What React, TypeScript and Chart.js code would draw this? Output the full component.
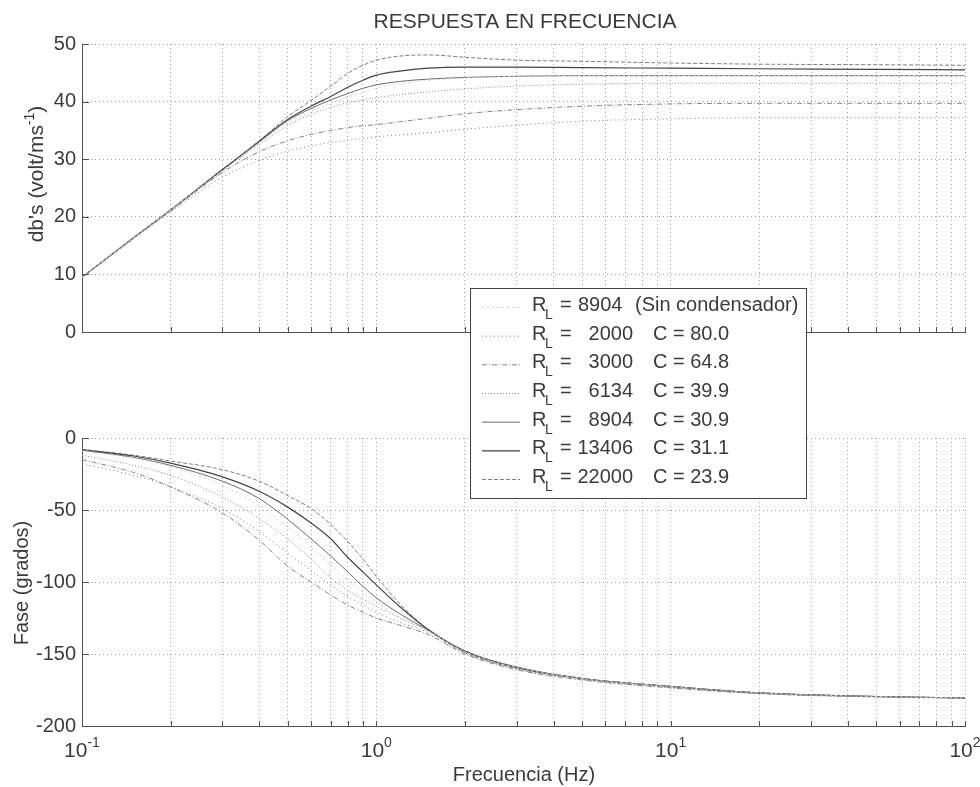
import React, { useEffect, useRef } from 'react';
import { Chart, registerables } from 'chart.js';

Chart.register(...registerables);

const W = 980;
const H = 787;
const FONT = '"Liberation Sans", Arial, Helvetica, sans-serif';
const TEXT_COLOR = '#3b3b3b';
const AXIS_COLOR = '#505050';
const GRID_COLOR = '#a0a0a0';

const PLOT_LEFT = 82;
const PLOT_RIGHT_PAD = 15;
const TOP_PLOT_TOP = 44;
const TOP_PLOT_BOTTOM = 332;
const BOT_PLOT_TOP = 438;
const BOT_PLOT_BOTTOM = 726;

// ---------- texts ----------
const chartTitle = 'RESPUESTA EN FRECUENCIA';
const magAxisTitle = "db's (volt/ms";
const magAxisTitleSup = '-1';
const magAxisTitleEnd = ')';
const phaseAxisTitle = 'Fase (grados)';
const freqAxisTitle = 'Frecuencia (Hz)';

// ---------- axes ----------
const xGridValues = [
  0.1, 0.2, 0.3, 0.4, 0.5, 0.6, 0.7, 0.8, 0.9,
  1, 2, 3, 4, 5, 6, 7, 8, 9,
  10, 20, 30, 40, 50, 60, 70, 80, 90, 100,
];
const xLabelValues = [0.1, 1, 10, 100];
const xLabelExponents = ['-1', '0', '1', '2'];
const magTicks = [0, 10, 20, 30, 40, 50];
const phaseTicks = [-200, -150, -100, -50, 0];

// ---------- legend ----------
const legendRL = ['8904', '2000', '3000', '6134', '8904', '13406', '22000'];
const legendC = ['', '80.0', '64.8', '39.9', '30.9', '31.1', '23.9'];
const sinCondensadorNote = '(Sin condensador)';

// ---------- data ----------
const freqHz = [0.1, 0.15, 0.2, 0.3, 0.4, 0.5, 0.6, 0.7, 0.8, 0.9, 1.0, 1.2, 1.5, 2, 3, 5, 10, 20, 50, 100];

// magnitude, dB
const magSinCond8904 = [9.5, 16.4, 21.2, 28.0, 32.8, 36.3, 38.3, 39.7, 40.8, 41.6, 42.3, 43.1, 43.7, 44.1, 44.4, 44.5, 44.5, 44.5, 44.5, 44.5];
const mag2000 = [9.4, 16.2, 20.8, 26.9, 29.8, 31.4, 32.3, 32.9, 33.3, 33.6, 33.9, 34.2, 34.6, 35.2, 35.9, 36.6, 37.0, 37.2, 37.2, 37.2];
const mag3000 = [9.5, 16.3, 21.0, 27.7, 31.3, 33.2, 34.3, 35.0, 35.5, 35.8, 36.0, 36.5, 37.1, 37.9, 38.6, 39.2, 39.6, 39.7, 39.7, 39.7];
const mag6134 = [9.5, 16.4, 21.1, 27.9, 32.6, 35.8, 37.8, 39.0, 39.8, 40.3, 40.7, 41.2, 41.7, 42.2, 42.7, 43.0, 43.2, 43.2, 43.2, 43.2];
const mag8904 = [9.5, 16.4, 21.2, 28.1, 33.0, 36.7, 38.8, 40.3, 41.4, 42.3, 42.9, 43.5, 43.9, 44.2, 44.4, 44.5, 44.5, 44.5, 44.5, 44.5];
const mag13406 = [9.5, 16.4, 21.2, 28.2, 33.1, 36.9, 39.2, 40.9, 42.5, 43.7, 44.6, 45.3, 45.8, 46.0, 46.0, 45.9, 45.8, 45.7, 45.6, 45.5];
const mag22000 = [9.5, 16.4, 21.2, 28.2, 33.2, 37.4, 40.2, 42.7, 44.9, 46.3, 47.2, 47.9, 48.1, 47.7, 47.2, 47.0, 46.7, 46.5, 46.4, 46.3];

// phase, degrees
const phaseSinCond8904 = [-9, -14, -20, -33, -47, -62, -76, -88, -99, -107, -114, -124, -134, -148.5, -159.5, -167, -172.5, -177, -179.5, -180.5];
const phase2000 = [-18, -26, -34, -49, -65, -80, -92, -102, -110, -116, -121, -128, -135, -149, -160.5, -168, -173.5, -177.5, -179.8, -180.6];
const phase3000 = [-15, -24, -34, -52, -71, -89, -100, -109, -116, -121, -125, -130, -136.5, -150, -161, -168, -173.5, -177.5, -179.8, -180.6];
const phase6134 = [-12, -19, -26, -41, -56, -70, -84, -97, -106, -112, -117, -125, -134, -149, -159.5, -167, -172.5, -177, -179.5, -180.5];
const phase8904 = [-8.5, -13.5, -19, -30, -42, -56.5, -70, -82, -93, -103, -111, -122, -133.5, -148, -159, -167, -172.5, -177, -179.5, -180.5];
const phase13406 = [-8, -12.5, -17.5, -27, -37, -48, -59, -70, -83, -93, -102, -117, -133, -148, -159.5, -167, -172.5, -177, -179.5, -180.5];
const phase22000 = [-8, -12, -16, -22, -30, -40, -49, -60, -72, -84, -96, -115, -133, -149, -160, -167, -172.5, -177, -179.5, -180.5];

const magSeries = [magSinCond8904, mag2000, mag3000, mag6134, mag8904, mag13406, mag22000];
const phaseSeries = [phaseSinCond8904, phase2000, phase3000, phase6134, phase8904, phase13406, phase22000];

const seriesStyles = [
  { color: '#cfcfcf', width: 1, dash: [2, 3] },
  { color: '#7c7c7c', width: 1, dash: [1, 3] },
  { color: '#858585', width: 1, dash: [5, 2, 1, 2] },
  { color: '#8a8a8a', width: 1, dash: [1, 2] },
  { color: '#6c6c6c', width: 1, dash: [] as number[] },
  { color: '#454545', width: 1.2, dash: [] as number[] },
  { color: '#7e7e7e', width: 1, dash: [4, 2] },
];

// ---------- helpers ----------
type Seg = { text: string; size: number; dy: number };

function drawSegs(ctx: CanvasRenderingContext2D, segs: Seg[], x: number, y: number, align: 'left' | 'center' | 'right') {
  const widths = segs.map((s) => {
    ctx.font = `${s.size}px ${FONT}`;
    return ctx.measureText(s.text).width;
  });
  const total = widths.reduce((a, b) => a + b, 0);
  let cx = align === 'center' ? x - total / 2 : align === 'right' ? x - total : x;
  ctx.textAlign = 'left';
  ctx.textBaseline = 'alphabetic';
  segs.forEach((s, i) => {
    ctx.font = `${s.size}px ${FONT}`;
    ctx.fillText(s.text, cx, y + s.dy);
    cx += widths[i];
  });
}

function drawInwardTicks(chart: any) {
  const { ctx, chartArea: a, scales } = chart;
  ctx.save();
  ctx.strokeStyle = AXIS_COLOR;
  ctx.lineWidth = 1;
  ctx.setLineDash([]);
  ctx.beginPath();
  xGridValues.forEach((v) => {
    const x = Math.round(scales.x.getPixelForValue(v)) + 0.5;
    ctx.moveTo(x, a.bottom);
    ctx.lineTo(x, a.bottom - 5);
  });
  scales.y.ticks.forEach((t: any) => {
    const y = Math.round(scales.y.getPixelForValue(t.value)) + 0.5;
    ctx.moveTo(a.left, y);
    ctx.lineTo(a.left + 7, y);
  });
  ctx.stroke();
  ctx.restore();
}

function drawLegend(ctx: CanvasRenderingContext2D) {
  const x0 = 470.5;
  const y0 = 288.5;
  const x1 = 806.5;
  const y1 = 498.5;
  ctx.save();
  ctx.fillStyle = '#ffffff';
  ctx.fillRect(x0, y0, x1 - x0, y1 - y0);
  ctx.strokeStyle = '#444444';
  ctx.lineWidth = 1;
  ctx.setLineDash([]);
  ctx.strokeRect(x0, y0, x1 - x0, y1 - y0);
  legendRL.forEach((rl, i) => {
    const cy = 303.5 + i * 28.67;
    const st = seriesStyles[i];
    ctx.strokeStyle = st.color;
    ctx.lineWidth = st.width;
    ctx.setLineDash(st.dash);
    ctx.beginPath();
    ctx.moveTo(482, cy + 4);
    ctx.lineTo(520, cy + 4);
    ctx.stroke();
    ctx.setLineDash([]);
    ctx.fillStyle = TEXT_COLOR;
    ctx.textBaseline = 'alphabetic';
    const base = cy + 7.5;
    ctx.textAlign = 'left';
    ctx.font = `20px ${FONT}`;
    ctx.fillText('R', 532, base);
    ctx.font = `14px ${FONT}`;
    ctx.fillText('L', 545, base + 8);
    ctx.font = `20px ${FONT}`;
    ctx.fillText('=', 560, base);
    if (!legendC[i]) {
      ctx.fillText(rl, 578, base);
      ctx.fillText(sinCondensadorNote, 635, base);
    } else {
      ctx.textAlign = 'right';
      ctx.fillText(rl, 633, base);
      ctx.textAlign = 'left';
      ctx.fillText(`C = ${legendC[i]}`, 653, base);
    }
  });
  ctx.restore();
}

const topDecor = {
  id: 'topDecor',
  afterDraw(chart: any) {
    const { ctx } = chart;
    drawInwardTicks(chart);
    ctx.save();
    ctx.fillStyle = TEXT_COLOR;
    ctx.font = `21px ${FONT}`;
    ctx.textAlign = 'center';
    ctx.textBaseline = 'alphabetic';
    ctx.fillText(chartTitle, 525, 28);
    ctx.translate(43, 174);
    ctx.rotate(-Math.PI / 2);
    drawSegs(
      ctx,
      [
        { text: magAxisTitle, size: 21, dy: 0 },
        { text: magAxisTitleSup, size: 14, dy: -9 },
        { text: magAxisTitleEnd, size: 21, dy: 0 },
      ],
      0,
      0,
      'center'
    );
    ctx.restore();
  },
};

const bottomDecor = {
  id: 'bottomDecor',
  afterDraw(chart: any) {
    const { ctx, scales } = chart;
    drawInwardTicks(chart);
    ctx.save();
    ctx.fillStyle = TEXT_COLOR;
    xLabelValues.forEach((v, i) => {
      const x = scales.x.getPixelForValue(v);
      drawSegs(
        ctx,
        [
          { text: '10', size: 21, dy: 0 },
          { text: xLabelExponents[i], size: 14, dy: -10 },
        ],
        x,
        757,
        'center'
      );
    });
    ctx.font = `20px ${FONT}`;
    ctx.textAlign = 'center';
    ctx.textBaseline = 'alphabetic';
    ctx.fillText(freqAxisTitle, 524, 781);
    ctx.translate(28, 583);
    ctx.rotate(-Math.PI / 2);
    ctx.font = `20px ${FONT}`;
    ctx.fillText(phaseAxisTitle, 0, 0);
    ctx.restore();
    drawLegend(ctx);
  },
};

function xScale(height: number) {
  return {
    type: 'logarithmic',
    min: 0.1,
    max: 100,
    afterBuildTicks: (axis: any) => {
      axis.ticks = xGridValues.map((v) => ({ value: v }));
    },
    ticks: { display: false },
    grid: { color: GRID_COLOR, lineWidth: 1, drawTicks: false },
    border: { display: true, color: AXIS_COLOR, width: 1, dash: [1, 3] },
    afterFit: (axis: any) => {
      axis.height = height;
    },
  };
}

function yScale(min: number, max: number, ticks: number[]) {
  return {
    type: 'linear',
    min,
    max,
    afterBuildTicks: (axis: any) => {
      axis.ticks = ticks.map((v) => ({ value: v }));
    },
    ticks: {
      color: TEXT_COLOR,
      font: { family: FONT, size: 20 },
      padding: 6,
      callback: (v: any) => String(v),
    },
    grid: { color: GRID_COLOR, lineWidth: 1, drawTicks: false },
    border: { display: true, color: AXIS_COLOR, width: 1, dash: [1, 3] },
    afterFit: (axis: any) => {
      axis.width = PLOT_LEFT;
    },
  };
}

function makeDatasets(series: number[][]) {
  return series.map((vals, i) => ({
    data: freqHz.map((f, j) => ({ x: f, y: vals[j] })),
    borderColor: seriesStyles[i].color,
    borderWidth: seriesStyles[i].width,
    borderDash: seriesStyles[i].dash,
    pointRadius: 0,
    fill: false,
    cubicInterpolationMode: 'monotone',
  }));
}

function baseOptions(padTop: number, xHeight: number, yMin: number, yMax: number, yTicks: number[]) {
  return {
    responsive: false,
    maintainAspectRatio: false,
    animation: false,
    devicePixelRatio: 1,
    layout: { padding: { left: 0, right: PLOT_RIGHT_PAD, top: padTop, bottom: 0 } },
    plugins: { legend: { display: false }, tooltip: { enabled: false }, title: { display: false } },
    events: [],
    scales: {
      x: xScale(xHeight),
      y: yScale(yMin, yMax, yTicks),
    },
  };
}

export default function App() {
  const topRef = useRef<HTMLCanvasElement>(null);
  const botRef = useRef<HTMLCanvasElement>(null);

  useEffect(() => {
    document.body.style.margin = '0';
    const top = new Chart(topRef.current as HTMLCanvasElement, {
      type: 'line',
      data: { datasets: makeDatasets(magSeries) as any },
      options: baseOptions(TOP_PLOT_TOP, H - TOP_PLOT_BOTTOM, 0, 50, magTicks) as any,
      plugins: [topDecor],
    });
    const bot = new Chart(botRef.current as HTMLCanvasElement, {
      type: 'line',
      data: { datasets: makeDatasets(phaseSeries) as any },
      options: baseOptions(BOT_PLOT_TOP, H - BOT_PLOT_BOTTOM, -200, 0, phaseTicks) as any,
      plugins: [bottomDecor],
    });
    return () => {
      top.destroy();
      bot.destroy();
    };
  }, []);

  const canvasStyle: React.CSSProperties = { position: 'absolute', left: 0, top: 0, width: W, height: H };
  return (
    <div style={{ position: 'relative', width: W, height: H, background: '#ffffff' }}>
      <canvas ref={topRef} width={W} height={H} style={canvasStyle} />
      <canvas ref={botRef} width={W} height={H} style={canvasStyle} />
    </div>
  );
}
